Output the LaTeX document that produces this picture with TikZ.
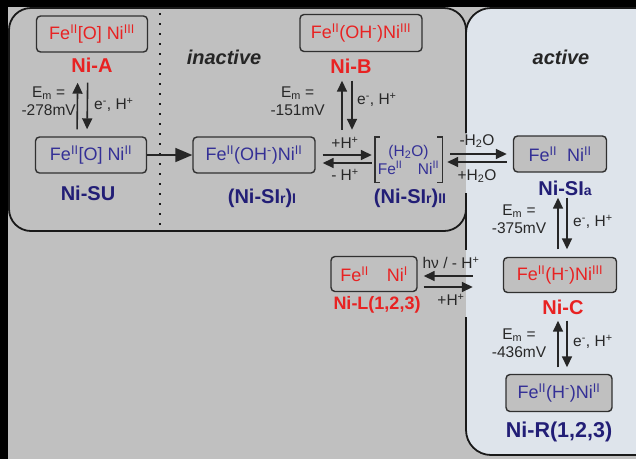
\documentclass[tikz,border=0pt]{standalone}
\usepackage{fontspec}
\setmainfont{Liberation Sans}
\usetikzlibrary{arrows.meta,calc}

\definecolor{bggray}{RGB}{192,192,192}
\definecolor{activefill}{RGB}{222,228,235}
\definecolor{redtxt}{RGB}{232,34,34}
\definecolor{bluetxt}{RGB}{52,48,150}
\definecolor{bluelab}{RGB}{34,30,118}
\definecolor{boxline}{RGB}{48,48,48}
\definecolor{notetxt}{RGB}{40,40,40}

\newcommand{\sps}[1]{\textsuperscript{#1}}
\newcommand{\sbs}[1]{\textsubscript{#1}}
\newcommand{\smallpart}[1]{{\fontsize{14}{14}\selectfont #1}}

\tikzset{
  state/.style={draw=boxline, line width=1.4pt, rounded corners=4pt, fill=bggray,
    minimum height=36pt, inner sep=0pt, font=\fontsize{18}{20}\selectfont},
  redstate/.style={state, text=redtxt},
  bluestate/.style={state, text=bluetxt},
  lab/.style={inner sep=0pt, font=\bfseries\fontsize{20}{22}\selectfont},
  redlab/.style={lab, text=redtxt},
  bluelab/.style={lab, text=bluelab},
  note/.style={inner sep=0pt, text=notetxt, font=\fontsize{15.5}{18}\selectfont},
  head/.style={inner sep=0pt, text=black!85, font=\bfseries\itshape\fontsize{20}{22}\selectfont},
  eqarrow/.style={line width=1.6pt, draw=black!85, -{Triangle[length=11pt,width=10pt]}},
  bigarrow/.style={line width=1.6pt, draw=black!85, -{Triangle[length=17pt,width=14pt]}},
  panel/.style={line width=1.8pt, draw=black!90},
  dotline/.style={line width=2pt, dash pattern=on 2pt off 8pt, draw=black!90},
  bracket/.style={line width=1.4pt, draw=boxline}
}

\begin{document}
\begin{tikzpicture}[x=1pt, y=-1pt]
\useasboundingbox (0,0) rectangle (636,459);
\fill[black] (0,0) rectangle (636,459);
\fill[bggray] (8,7) rectangle (636,459);

% panels
\fill[activefill, rounded corners=25pt] (466,8) rectangle (660,455);
\draw[panel, rounded corners=22pt] (466,133) -- (466,8) -- (9,8) -- (9,231) -- (466,231) -- (466,193);
\draw[panel, rounded corners=25pt] (466,133) -- (466,8) -- (660,8) -- (660,455) -- (466,455) -- (466,317);
\draw[panel] (466,193) -- (466,250);

% dotted separator inside the inactive panel
\draw[dotline] (160,13) -- (160,228);

\node[head] (inact) at (224,57) {inactive};
\node[head] (act) at (561,57) {active};

% states
\node[redstate, minimum width=111pt] (niA) at (92,34) {Fe\sps{II}[O] Ni\sps{III}};
\node[redlab] (niAlab) at (92,65) {Ni-A};

\node[bluestate, minimum width=111pt] (niSU) at (91,155) {Fe\sps{II}[O] Ni\sps{II}};
\node[bluelab] (niSUlab) at (88,193) {Ni-SU};

\node[bluestate, minimum width=122pt] (sir1) at (254,155) {Fe\sps{II}(OH\sps{-})Ni\sps{II}};
\node[bluelab] (sir1lab) at (262,198) {(Ni-SI\smallpart{r})\smallpart{I}};

\node[redstate, minimum width=122pt, minimum height=37pt] (niB) at (361,33) {Fe\sps{II}(OH\sps{-})Ni\sps{III}};
\node[redlab] (niBlab) at (351,66) {Ni-B};

\node[inner sep=0pt, minimum width=67pt, minimum height=45pt, align=center, text=bluetxt,
      font=\fontsize{15.5}{18}\selectfont] (sir2) at (408.5,159.5) {(H\sbs{2}O)\\Fe\sps{II}\quad Ni\sps{II}};
\draw[bracket] ([xshift=5pt]sir2.north west) -- (sir2.north west) -- (sir2.south west) -- ([xshift=5pt]sir2.south west);
\draw[bracket] ([xshift=-5pt]sir2.north east) -- (sir2.north east) -- (sir2.south east) -- ([xshift=-5pt]sir2.south east);
\node[bluelab] (sir2lab) at (410,198) {(Ni-SI\smallpart{r})\smallpart{II}};

\node[bluestate, minimum width=93pt] (sia) at (560,154) {Fe\sps{II}\ \ Ni\sps{II}};
\node[bluelab] (sialab) at (565,188) {Ni-SI\smallpart{a}};

\node[redstate, minimum width=113pt, minimum height=35pt] (niC) at (560,275) {Fe\sps{II}(H\sps{-})Ni\sps{III}};
\node[redlab] (niClab) at (563,307) {Ni-C};

\node[bluestate, minimum width=106pt, minimum height=37pt] (niR) at (559,393) {Fe\sps{II}(H\sps{-})Ni\sps{II}};
\node[bluelab, font=\bfseries\fontsize{21.5}{23}\selectfont] (niRlab) at (559,432) {Ni-R(1,2,3)};

\node[redstate, minimum width=86pt, minimum height=35pt] (niL) at (374,274) {Fe\sps{II}\quad Ni\sps{I}};
\node[redlab, font=\bfseries\fontsize{18}{20}\selectfont] (niLlab) at (377,305) {Ni-L(1,2,3)};

% Ni-A <-> Ni-SU
\draw[eqarrow, shorten <=7pt, shorten >=30pt] ([xshift=-14pt]niSU.north) -- ([xshift=-14pt]niA.south);
\draw[eqarrow, shorten <=30pt, shorten >=7pt] ([xshift=-4pt]niA.south) -- ([xshift=-4pt]niSU.north);
\node[note, align=center, anchor=east] (emA) at (76,101) {E\sbs{m} =\\-278mV};
\node[note, anchor=west] (ehA) at (94,105) {e\sps{-}, H\sps{+}};

% Ni-SU -> (Ni-SIr)I
\draw[bigarrow] (niSU.east) -- (sir1.west);

% Ni-B <-> (Ni-SIr)II
\coordinate (bUp) at ([xshift=-19pt]niB.south);
\coordinate (bDn) at ([xshift=-9pt]niB.south);
\draw[eqarrow, shorten <=7pt, shorten >=28.5pt] (bUp |- sir2.north) -- (bUp);
\draw[eqarrow, shorten <=28.5pt, shorten >=7pt] (bDn) -- (bDn |- sir2.north);
\node[note, align=center, anchor=east] (emB) at (325,101) {E\sbs{m} =\\-151mV};
\node[note, anchor=west] (ehB) at (357,100) {e\sps{-}, H\sps{+}};

% (Ni-SIr)I <-> (Ni-SIr)II
\coordinate (s1a) at (sir1.east);
\coordinate (s1b) at ([yshift=-8pt]sir1.east);
\draw[eqarrow, shorten <=7pt, shorten >=3pt] (s1a) -- (s1a -| sir2.west);
\draw[eqarrow, shorten <=3pt, shorten >=7pt] (s1b -| sir2.west) -- (s1b);
\node[note] (pH1) at (345,143) {+H\sps{+}};
\node[note] (mH1) at (345,175) {- H\sps{+}};

% (Ni-SIr)II <-> Ni-SIa
\coordinate (s2a) at (sia.west);
\coordinate (s2b) at ([yshift=-8pt]sia.west);
\draw[eqarrow, shorten <=8pt, shorten >=6pt] (s2a -| sir2.east) -- (s2a);
\draw[eqarrow, shorten <=6pt, shorten >=5pt] (s2b) -- (s2b -| sir2.east);
\node[note] (mW) at (477,141) {-H\sbs{2}O};
\node[note] (pW) at (477,176) {+H\sbs{2}O};

% Ni-SIa <-> Ni-C
\coordinate (cUp) at ([xshift=-2pt]niC.north);
\coordinate (cDn) at ([xshift=7pt]sia.south);
\draw[eqarrow, shorten <=7.5pt, shorten >=25pt] (cUp) -- (cUp |- sia.south);
\draw[eqarrow, shorten <=25pt, shorten >=7.5pt] (cDn) -- (cDn |- niC.north);
\node[note, align=center] (emC) at (519,219) {E\sbs{m} =\\-375mV};
\node[note, anchor=west] (ehC) at (573,222) {e\sps{-}, H\sps{+}};

% Ni-C <-> Ni-R
\coordinate (rUp) at ([xshift=-2pt]niC.south);
\coordinate (rDn) at ([xshift=7pt]niC.south);
\draw[eqarrow, shorten <=6.5pt, shorten >=27.5pt] (rUp |- niR.north) -- (rUp);
\draw[eqarrow, shorten <=27.5pt, shorten >=6.5pt] (rDn) -- (rDn |- niR.north);
\node[note, align=center] (emR) at (519,343) {E\sbs{m} =\\-436mV};
\node[note, anchor=west] (ehR) at (573,342) {e\sps{-}, H\sps{+}};

% Ni-L <-> Ni-C
\coordinate (lc1) at ([yshift=-1pt]niC.west);
\coordinate (lc2) at ([yshift=-12pt]niC.west);
\draw[eqarrow, shorten <=30pt, shorten >=6pt] (lc1) -- (lc1 -| niL.east);
\draw[eqarrow, shorten <=6pt, shorten >=30pt] (lc2 -| niL.east) -- (lc2);
\node[note] (hv) at (451,263) {hν / - H\sps{+}};
\node[note] (pH2) at (451,300) {+H\sps{+}};
\end{tikzpicture}
\end{document}
